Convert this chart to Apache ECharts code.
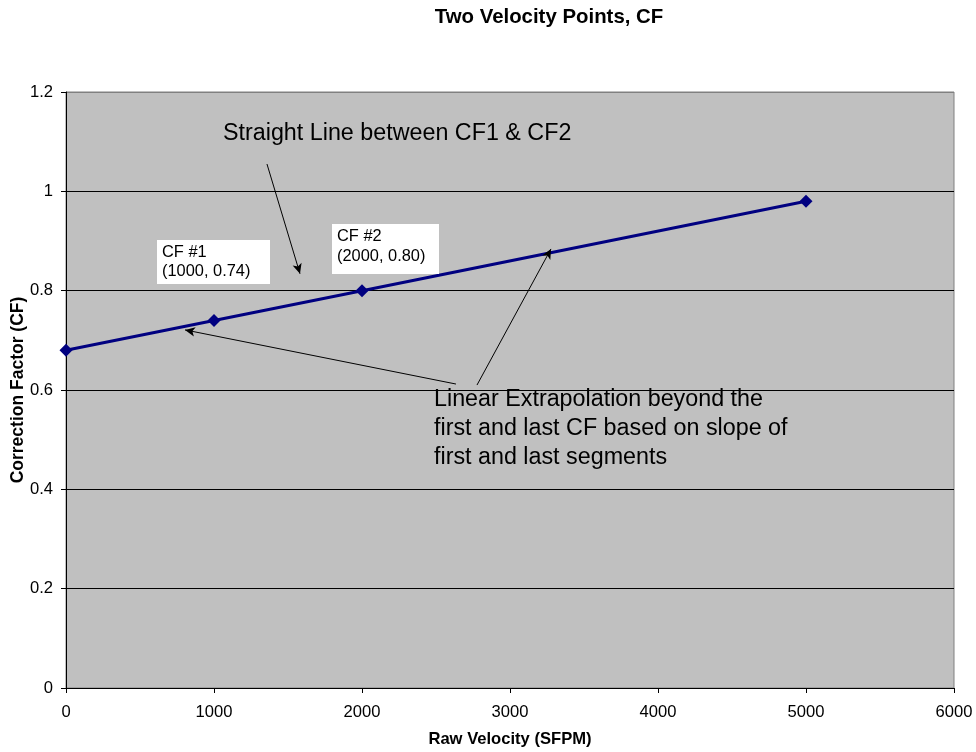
<!DOCTYPE html>
<html><head><meta charset="utf-8">
<script src="https://cdn.jsdelivr.net/npm/echarts@6/dist/echarts.min.js"></script>
<style>html,body{margin:0;padding:0;background:#fff}#c{width:976px;height:752px}</style>
</head><body><div id="c"></div>
<script>
const velocity = [0, 1000, 2000, 5000];
const cf = [0.68, 0.74, 0.80, 0.98];
const arrows = [
  [[1358, 1.055], [1581, 0.834]],
  [[2635, 0.612], [804, 0.721]],
  [[2777, 0.610], [3277, 0.884]]
];
const F = '"Liberation Sans", Arial, sans-serif';
const chart = echarts.init(document.getElementById('c'));
chart.setOption({
  animation: false,
  backgroundColor: '#fff',
  grid: {left: 66, right: 22, top: 92, bottom: 64, show: true, backgroundColor: '#c0c0c0', borderColor: '#808080', borderWidth: 1},
  xAxis: {type: 'value', min: 0, max: 6000, interval: 1000,
    axisLine: {show: true, lineStyle: {color: '#000', width: 1}},
    axisTick: {show: true, length: 5, lineStyle: {color: '#000'}},
    axisLabel: {fontFamily: F, fontSize: 16.6, color: '#000', margin: 16, formatter: v => String(v)},
    splitLine: {show: false}},
  yAxis: {type: 'value', min: 0, max: 1.2, interval: 0.2,
    axisLine: {show: true, lineStyle: {color: '#000', width: 1}},
    axisTick: {show: true, length: 5, lineStyle: {color: '#000'}},
    axisLabel: {fontFamily: F, fontSize: 16.6, color: '#000', margin: 13,
      formatter: v => String(Math.round(v * 10) / 10)},
    splitLine: {show: true, lineStyle: {color: ['#000', '#000', '#000', '#000', '#000', '#000', '#808080'], width: 1}}},
  series: [{
    type: 'line',
    data: velocity.map((v, i) => [v, cf[i]]),
    symbol: 'diamond', symbolSize: 13,
    lineStyle: {color: '#000080', width: 3},
    itemStyle: {color: '#000080'},
    z: 3,
    markLine: {
      silent: true, symbol: ['none', 'arrow'], symbolSize: [7, 10],
      label: {show: false},
      lineStyle: {color: '#000', width: 1, type: 'solid'},
      data: arrows.map(a => [{coord: a[0]}, {coord: a[1]}])
    }
  }],
  graphic: [
    {type: 'text', x: 549, y: 17, style: {text: 'Two Velocity Points, CF', font: 'bold 20.4px ' + F, fill: '#000', align: 'center', verticalAlign: 'middle'}},
    {type: 'text', x: 18, y: 390, rotation: Math.PI / 2, style: {text: 'Correction Factor (CF)', font: 'bold 17.5px ' + F, fill: '#000', align: 'center', verticalAlign: 'middle'}},
    {type: 'text', x: 510, y: 739, style: {text: 'Raw Velocity (SFPM)', font: 'bold 16.6px ' + F, fill: '#000', align: 'center', verticalAlign: 'middle'}},
    {type: 'rect', shape: {x: 157, y: 240, width: 113, height: 44}, style: {fill: '#fff'}, z: 10},
    {type: 'text', x: 162, y: 262, style: {text: 'CF #1\n(1000, 0.74)', font: '16.4px ' + F, fill: '#000', lineHeight: 19.5, verticalAlign: 'middle'}, z: 11},
    {type: 'rect', shape: {x: 332, y: 224, width: 107, height: 50}, style: {fill: '#fff'}, z: 10},
    {type: 'text', x: 337, y: 246.5, style: {text: 'CF #2\n(2000, 0.80)', font: '16.4px ' + F, fill: '#000', lineHeight: 20, verticalAlign: 'middle'}, z: 11},
    {type: 'text', x: 223, y: 133.5, style: {text: 'Straight Line between CF1 & CF2', font: '23.3px ' + F, fill: '#000', verticalAlign: 'middle'}, z: 11},
    {type: 'text', x: 434, y: 429, style: {text: 'Linear Extrapolation beyond the\nfirst and last CF based on slope of\nfirst and last segments', font: '23.3px ' + F, fill: '#000', lineHeight: 29, verticalAlign: 'middle'}, z: 11}
  ]
});
</script></body></html>
